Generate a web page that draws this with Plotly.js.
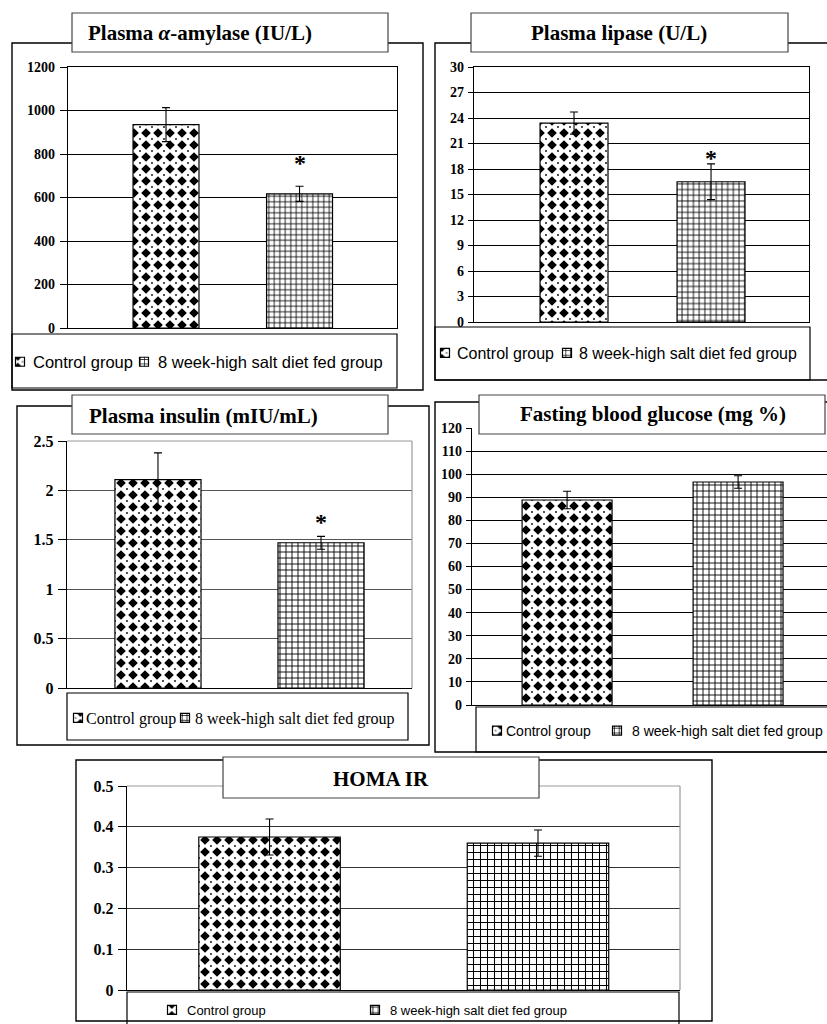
<!DOCTYPE html>
<html><head><meta charset="utf-8">
<script src="https://cdn.plot.ly/plotly-3.0.1.min.js"></script>
<style>html,body{margin:0;padding:0;background:#fff;} #chart{width:827px;height:1024px;}</style>
</head><body><div id="chart"></div>
<script>
// ---------------- data ----------------
const groups = ['Control group', '8 week-high salt diet fed group'];

const amylaseMean = [935, 617];
const amylaseSE = [78, 35];
const amylaseSig = ['', '*'];
const amylaseTicks = [0, 200, 400, 600, 800, 1000, 1200];
const amylaseTickText = ['0', '200', '400', '600', '800', '1000', '1200'];

const lipaseMean = [23.4, 16.5];
const lipaseSE = [1.3, 2.1];
const lipaseSig = ['', '*'];
const lipaseTicks = [0, 3, 6, 9, 12, 15, 18, 21, 24, 27, 30];
const lipaseTickText = ['0', '3', '6', '9', '12', '15', '18', '21', '24', '27', '30'];

const insulinMean = [2.11, 1.47];
const insulinSE = [0.27, 0.065];
const insulinSig = ['', '*'];
const insulinTicks = [0, 0.5, 1, 1.5, 2, 2.5];
const insulinTickText = ['0', '0.5', '1', '1.5', '2', '2.5'];

const glucoseMean = [88.8, 96.6];
const glucoseSE = [3.8, 2.7];
const glucoseSig = ['', ''];
const glucoseTicks = [0, 10, 20, 30, 40, 50, 60, 70, 80, 90, 100, 110, 120];
const glucoseTickText = ['0', '10', '20', '30', '40', '50', '60', '70', '80', '90', '100', '110', '120'];

const homaMean = [0.375, 0.36];
const homaSE = [0.044, 0.032];
const homaSig = ['', ''];
const homaTicks = [0, 0.1, 0.2, 0.3, 0.4, 0.5];
const homaTickText = ['0', '0.1', '0.2', '0.3', '0.4', '0.5'];

const panelTitles = ['Plasma <i>α</i>-amylase (IU/L)', 'Plasma lipase (U/L)', 'Plasma insulin (mIU/mL)',
  'Fasting blood glucose (mg %)', 'HOMA IR'];

// ---------------- layout helpers ----------------
const W = 827, H = 1024;
const fx = px => px / W;
const fy = py => 1 - py / H;
const SANS = 'Liberation Sans, Arial, sans-serif';
const SERIF = 'Liberation Serif, Times New Roman, serif';

// icons: legend swatch centre x; tgap: distance from swatch centre to text start
const panels = [
  {mean: amylaseMean, se: amylaseSE, sig: amylaseSig, ticks: amylaseTicks, tickText: amylaseTickText, title: panelTitles[0],
   plot: [68, 67, 397, 328], xr: [-0.734, 1.730], bw: 0.494, grid: 5.5,
   frame: [12, 43, 423, 390], tbox: [72, 13, 388, 52], tpos: [200, 33],
   lbox: [12, 334, 397, 388], icons: [20, 144], ly: 362, lfont: {family: SANS, size: 16.5}, tgap: [13, 14],
   tfs: 14, tlen: 7, tso: 2, mirror: true, gridc: '#000', gray: false, starShift: 23},
  {mean: lipaseMean, se: lipaseSE, sig: lipaseSig, ticks: lipaseTicks, tickText: lipaseTickText, title: panelTitles[1],
   plot: [474, 67, 809, 322], xr: [-0.730, 1.715], bw: 0.496, grid: 5.7,
   frame: [435, 43, 880, 380], tbox: [471, 13, 788, 52], tpos: [619, 33],
   lbox: [435, 327, 810, 380], icons: [445, 567], ly: 353, lfont: {family: SANS, size: 16}, tgap: [12, 12],
   tfs: 14, tlen: 5, tso: 1, mirror: true, gridc: '#000', gray: false, starShift: 6},
  {mean: insulinMean, se: insulinSE, sig: insulinSig, ticks: insulinTicks, tickText: insulinTickText, title: panelTitles[2],
   plot: [67, 441, 412, 688], xr: [-0.558, 1.558], bw: 0.528, grid: 6,
   frame: [17, 406, 429, 745], tbox: [72, 395, 388, 434], tpos: [203, 416],
   lbox: [67, 693, 408, 740], icons: [78, 185], ly: 718, lfont: {family: SERIF, size: 16}, tgap: [8, 10],
   tfs: 16, tlen: 8, tso: 1, mirror: false, gridc: '#555', gray: true, starShift: 14},
  {mean: glucoseMean, se: glucoseSE, sig: glucoseSig, ticks: glucoseTicks, tickText: glucoseTickText, title: panelTitles[3],
   plot: [472, 428, 827, 705], xr: [-0.556, 1.520], bw: 0.526, grid: 6,
   frame: [435, 402, 880, 752], tbox: [479, 395, 825, 434], tpos: [653, 414],
   lbox: [476, 707, 880, 752], icons: [497, 617], ly: 731, lfont: {family: SANS, size: 14}, tgap: [9, 15],
   tfs: 14, tlen: 5, tso: 1, mirror: false, gridc: '#000', gray: false, starShift: 10},
  {mean: homaMean, se: homaSE, sig: homaSig, ticks: homaTicks, tickText: homaTickText, title: panelTitles[4],
   plot: [127, 786, 680, 990], xr: [-0.531, 1.529], bw: 0.527, grid: 7,
   frame: [76, 760, 712, 1021], tbox: [223, 757, 539, 798], tpos: [381, 779],
   lbox: [127, 992, 679, 1030], icons: [172, 375], ly: 1010, lfont: {family: SANS, size: 13}, tgap: [15, 15],
   tfs: 16, tlen: 8, tso: 1, mirror: false, gridc: '#333', gray: true, starShift: 10}
];

const data = [], shapes = [], annotations = [];
const layout = {
  width: W, height: H, margin: {l: 0, r: 0, t: 0, b: 0, pad: 0, autoexpand: false},
  paper_bgcolor: '#fff', plot_bgcolor: 'rgba(0,0,0,0)',
  barmode: 'overlay', hovermode: false, showlegend: true,
  shapes: shapes, annotations: annotations
};

let legendCount = 0;
panels.forEach((p, k) => {
  const n = k + 1;
  const sfx = n === 1 ? '' : String(n);
  const xr = 'x' + sfx, yr = 'y' + sfx;
  layout['xaxis' + sfx] = {
    domain: [fx(p.plot[0]), fx(p.plot[2])], anchor: yr, type: 'category',
    categoryorder: 'array', categoryarray: groups, range: p.xr,
    showticklabels: false, ticks: '', showgrid: false, zeroline: false,
    showline: true, linecolor: '#000', linewidth: 1.2, mirror: p.mirror, fixedrange: true
  };
  layout['yaxis' + sfx] = {
    domain: [fy(p.plot[3]), fy(p.plot[1])], anchor: xr,
    range: [0, p.ticks[p.ticks.length - 1]], tickmode: 'array', tickvals: p.ticks,
    ticktext: p.tickText.map(t => '<b>' + t + '</b>'),
    showgrid: true, gridcolor: p.gridc, gridwidth: 1, zeroline: false,
    showline: true, linecolor: '#000', linewidth: 1.2, mirror: p.mirror,
    ticks: 'outside', ticklen: p.tlen, tickwidth: 1, tickcolor: '#000', ticklabelstandoff: p.tso,
    tickfont: {family: SERIF, size: p.tfs, color: '#000', weight: 'bold'}, fixedrange: true,
    automargin: false
  };

  groups.forEach((g, i) => {
    legendCount++;
    const lk = legendCount === 1 ? 'legend' : 'legend' + legendCount;
    const isCtrl = i === 0;
    data.push({
      type: 'bar', name: g, x: [g], y: [p.mean[i]], width: [p.bw],
      xaxis: xr, yaxis: yr, legend: lk, uid: (isCtrl ? 'ctrl' : 'salt') + n,
      error_y: {type: 'data', array: [p.se[i]], visible: true, color: '#000', thickness: 1.1, width: 4},
      marker: {
        color: '#fff', line: {color: '#000', width: 1.2},
        pattern: isCtrl
          ? {shape: '.', size: 12, solidity: 0.35, fgcolor: '#000', bgcolor: '#fff', fillmode: 'replace'}
          : {shape: '+', size: p.grid, solidity: 0.28, fgcolor: '#000', bgcolor: '#fff', fillmode: 'replace'}
      },
      hoverinfo: 'skip'
    });
    // Plotly puts legend text 40px after the legend's left edge; place it where the text sits in the figure
    layout[lk] = {
      x: fx(p.icons[i] + p.tgap[i] - 40), xanchor: 'left', y: fy(p.ly), yanchor: 'middle',
      orientation: 'h', bgcolor: 'rgba(0,0,0,0)', borderwidth: 0, itemwidth: 30,
      font: Object.assign({color: '#000'}, p.lfont), itemclick: false, itemdoubleclick: false
    };
    if (p.sig[i]) {
      annotations.push({
        xref: xr, yref: yr, x: g, y: p.mean[i] + p.se[i], text: p.sig[i], showarrow: false,
        yanchor: 'middle', yshift: p.starShift,
        font: {family: SERIF, size: 24, color: '#000', weight: 'bold'}
      });
    }
  });

  const rect = (b, line, fill) => ({
    type: 'rect', xref: 'paper', yref: 'paper', layer: 'above',
    x0: fx(b[0]), x1: fx(b[2]), y0: fy(b[3]), y1: fy(b[1]),
    line: line, fillcolor: fill
  });
  shapes.push(rect(p.frame, {color: '#000', width: 1.4}, 'rgba(0,0,0,0)'));
  shapes.push(rect(p.lbox, {color: '#000', width: 1.2}, 'rgba(0,0,0,0)'));
  if (p.gray) {
    shapes.push({type: 'line', xref: xr + ' domain', yref: yr + ' domain', x0: 0, x1: 1, y0: 1, y1: 1,
      line: {color: '#999', width: 1.2}, layer: 'above'});
    shapes.push({type: 'line', xref: xr + ' domain', yref: yr + ' domain', x0: 1, x1: 1, y0: 0, y1: 1,
      line: {color: '#999', width: 1.2}, layer: 'above'});
  }
  shapes.push(rect(p.tbox, {color: '#444', width: 1.2}, '#fff'));
  annotations.push({
    xref: 'paper', yref: 'paper', x: fx(p.tpos[0]), y: fy(p.tpos[1]), xanchor: 'center', yanchor: 'middle',
    text: p.title, showarrow: false, font: {family: SERIF, size: 21, color: '#000', weight: 'bold'}
  });
});

// Styling touch-ups after Plotly has drawn: diamond fill for control bars,
// small legend swatches set close to their text (as in the original figure).
function finishStyle() {
  document.querySelectorAll('pattern').forEach(pt => {
    if (!/ctrl/.test(pt.id)) return;
    pt.setAttribute('width', 12);
    pt.setAttribute('height', 12);
    pt.innerHTML = '<rect x="0" y="0" width="12" height="12" fill="#fff"></rect>' +
      '<path d="M6,1.2L10.8,6L6,10.8L1.2,6Z" fill="#000"></path>' +
      '<circle cx="0" cy="0" r="0.9" fill="#000"></circle><circle cx="12" cy="0" r="0.9" fill="#000"></circle>' +
      '<circle cx="0" cy="12" r="0.9" fill="#000"></circle><circle cx="12" cy="12" r="0.9" fill="#000"></circle>';
  });
  document.querySelectorAll('g.traces').forEach(g => {
    const d = g.__data__;
    if (!d || !d[0] || !d[0].trace) return;
    const uid = String(d[0].trace.uid || '');
    const m = uid.match(/^(ctrl|salt)(\d)$/);
    if (!m) return;
    const p = panels[+m[2] - 1];
    const gap = p.tgap[m[1] === 'ctrl' ? 0 : 1];
    const c = 20 - gap;          // swatch centre relative to Plotly's symbol position
    const h = 4.5;
    g.querySelectorAll('.legendpoints path').forEach(pa =>
      pa.setAttribute('d', 'M' + (c + h) + ',' + h + 'H' + (c - h) + 'V' + (-h) + 'H' + (c + h) + 'Z'));
  });
}

const gd = document.getElementById('chart');
Plotly.newPlot(gd, data, layout, {displayModeBar: false, staticPlot: true}).then(() => {
  finishStyle();
  requestAnimationFrame(finishStyle);
  setTimeout(finishStyle, 60);
  setTimeout(finishStyle, 300);
});
</script>
</body></html>
